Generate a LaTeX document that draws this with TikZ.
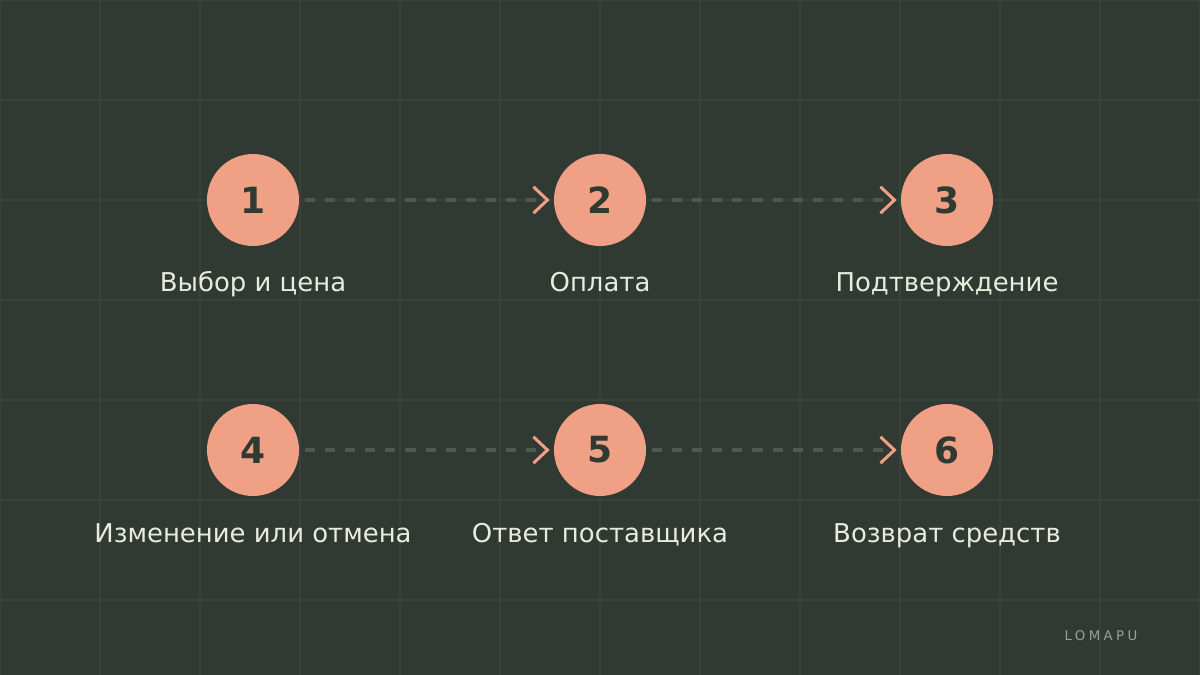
\documentclass[tikz,border=0pt]{standalone}
\usepackage{fontspec}
\setmainfont{DejaVu Sans}
\usetikzlibrary{positioning}
\usetikzlibrary{arrows.meta}
\definecolor{bgcol}{HTML}{313A32}
\definecolor{gridcol}{HTML}{38413A}
\definecolor{dashcol}{HTML}{4E594F}
\definecolor{peach}{HTML}{EFA085}
\definecolor{cream}{HTML}{E9EBDF}
\definecolor{brandcol}{HTML}{96A197}

\begin{document}
\begin{tikzpicture}[x=0.02cm, y=-0.02cm,
    stepdot/.style={circle, fill=peach, minimum size=1.84cm, inner sep=0pt,
      text=bgcol, font=\bfseries\fontsize{20.5}{24}\selectfont},
    steptext/.style={anchor=base, text=cream, font=\fontsize{14.75}{17}\selectfont},
    flowline/.style={draw=dashcol, line width=2pt, dash pattern=on 5.7pt off 5.7pt,
      shorten <=0.12cm, shorten >=0.08cm,
      -{Straight Barb[length=8pt, width=15pt, line width=1.7pt, color=peach]}}]
    % background and grid
    \fill[bgcol] (0,0) rectangle (1200,675);
    \useasboundingbox (0,0) rectangle (1200,675);
    \foreach \gx in {0,100,...,1200}
        \draw[gridcol, line width=0.6pt] (\gx,0) -- (\gx,675);
    \foreach \gy in {0,100,...,600}
        \draw[gridcol, line width=0.6pt] (0,\gy) -- (1200,\gy);
    % steps
    \node[stepdot] (s1) at (253,200) {1};
    \node[stepdot] (s2) at (600,200) {2};
    \node[stepdot] (s3) at (947,200) {3};
    \node[stepdot] (s4) at (253,450) {4};
    \node[stepdot] (s5) at (600,450) {5};
    \node[stepdot] (s6) at (947,450) {6};
    \node[steptext] (l1) at (253,292) {Выбор и цена};
    \node[steptext] (l2) at (600,292) {Оплата};
    \node[steptext] (l3) at (947,292) {Подтверждение};
    \node[steptext] (l4) at (253,542) {Изменение или отмена};
    \node[steptext] (l5) at (600,542) {Ответ поставщика};
    \node[steptext] (l6) at (947,542) {Возврат средств};
    % arrows
    \draw[flowline] (s1) -- (s2);
    \draw[flowline] (s2) -- (s3);
    \draw[flowline] (s4) -- (s5);
    \draw[flowline] (s5) -- (s6);
    \node[text=brandcol, font=\fontsize{7.6}{9}\selectfont\addfontfeatures{LetterSpace=25}] (brand) at (1101,636) {LOMAPU};
\end{tikzpicture}
\end{document}
